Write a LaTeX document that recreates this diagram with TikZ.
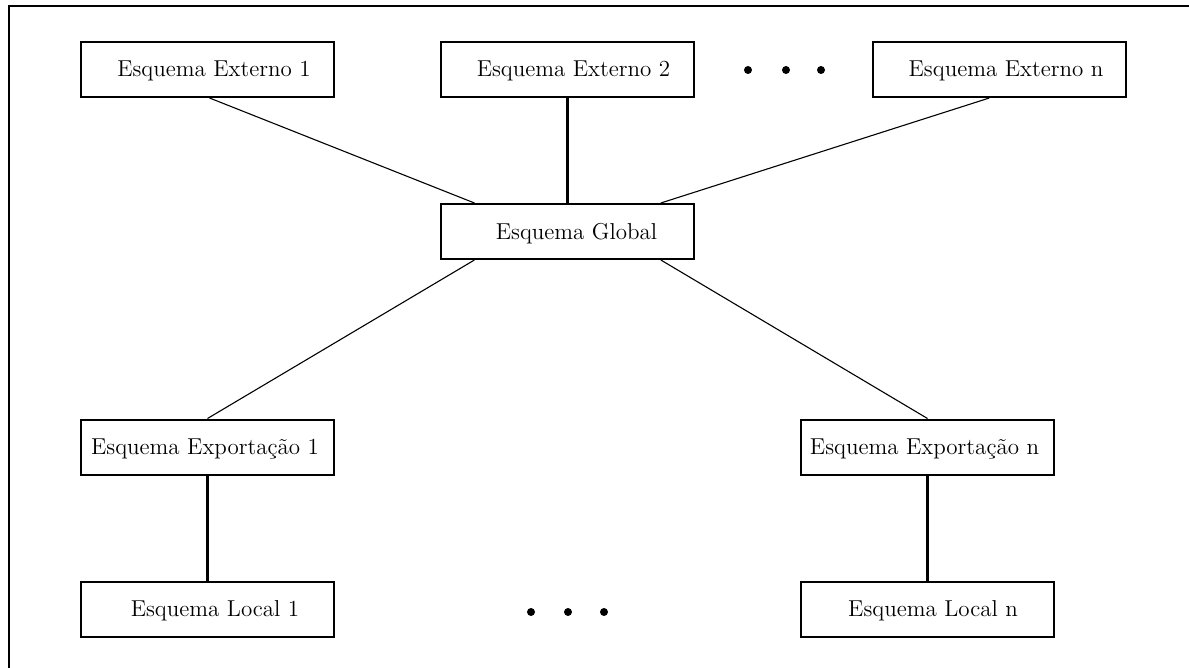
\documentclass[tikz,border=0pt]{standalone}
\usetikzlibrary{calc}
\begin{document}
\begin{tikzpicture}[x={(0.5pt,0)},y={(0,-0.5pt)},
  box/.style={draw,line width=1pt,minimum width=126.5pt,minimum height=27.5pt,inner sep=0pt},
  lbl/.style={inner sep=0pt,font=\fontsize{11.5}{13}\selectfont},
  thinline/.style={line width=0.55pt},
  thickline/.style={line width=1.5pt},
  bigdot/.style={circle,fill=black,inner sep=0pt,minimum size=4pt}]
\useasboundingbox (0,0) rectangle (1189,668);
\draw[line width=1pt] (9,668) -- (9,6) -- (1189,6);
% boxes
\node[box] (e1) at (207,69.5) {};
\node[box] (e2) at (567.5,69.5) {};
\node[box] (en) at (999.5,69.5) {};
\node[box] (g) at (567.5,231.5) {};
\node[box] (x1) at (207.5,447) {};
\node[box] (xn) at (927.5,447) {};
\node[box] (l1) at (207.5,609.5) {};
\node[box] (ln) at (927.5,609.5) {};
% labels
\node[lbl] (e1t) at (214,71) {Esquema Externo 1};
\node[lbl] (e2t) at (573.5,71) {Esquema Externo 2};
\node[lbl] (ent) at (1006,71) {Esquema Externo n};
\node[lbl] (gt) at (576.5,234) {Esquema Global};
\node[lbl] (x1t) at (205,449) {Esquema Exportação 1};
\node[lbl] (xnt) at (924.5,449) {Esquema Exportação n};
\node[lbl] (l1t) at (215,611) {Esquema Local 1};
\node[lbl] (lnt) at (933,611) {Esquema Local n};
% dots
\node[bigdot] (d1) at (748,70) {};
\node[bigdot] (d2) at (786,70) {};
\node[bigdot] (d3) at (821,70) {};
\node[bigdot] (d4) at (531,612) {};
\node[bigdot] (d5) at (568,612) {};
\node[bigdot] (d6) at (604,612) {};
% connectors
\draw[thinline] ($(e1.south west)!0.51!(e1.south east)$) -- ($(g.north west)!0.135!(g.north east)$);
\draw[thickline] (e2.south) -- (g.north);
\draw[thinline] ($(en.south west)!0.46!(en.south east)$) -- ($(g.north west)!0.866!(g.north east)$);
\draw[thinline] ($(g.south west)!0.135!(g.south east)$) -- (x1.north);
\draw[thinline] ($(g.south west)!0.866!(g.south east)$) -- (xn.north);
\draw[thickline] (x1.south) -- (l1.north);
\draw[thickline] (xn.south) -- (ln.north);
\end{tikzpicture}
\end{document}
